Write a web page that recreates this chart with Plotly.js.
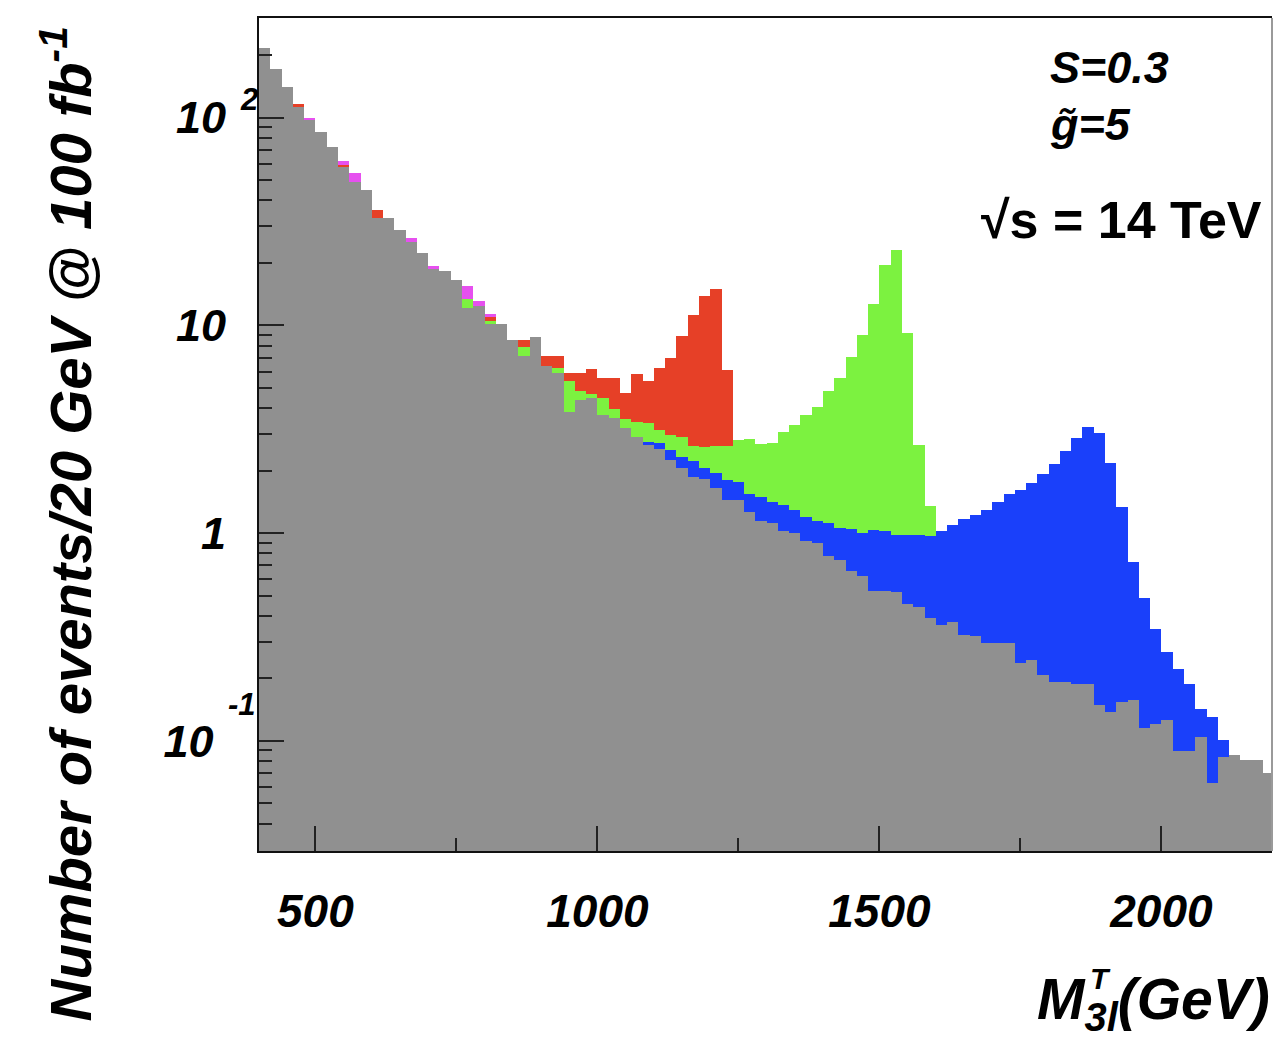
<!DOCTYPE html>
<html>
<head>
<meta charset="utf-8">
<script src="https://cdn.plot.ly/plotly-3.0.1.min.js"></script>
<style>
  html, body { margin: 0; padding: 0; background: #ffffff; }
  #chart { width: 1283px; height: 1045px; }
  /* keep neighbouring histogram bins seamless */
  #chart .barlayer path { shape-rendering: crispEdges; }
</style>
</head>
<body>
<div id="chart"></div>
<script>
// Transverse three-lepton mass, 20 GeV bins from 400 to 2200 GeV
const binCenters = [
  410, 430, 450, 470, 490, 510, 530, 550, 570, 590,
  610, 630, 650, 670, 690, 710, 730, 750, 770, 790,
  810, 830, 850, 870, 890, 910, 930, 950, 970, 990,
  1010, 1030, 1050, 1070, 1090, 1110, 1130, 1150, 1170, 1190,
  1210, 1230, 1250, 1270, 1290, 1310, 1330, 1350, 1370, 1390,
  1410, 1430, 1450, 1470, 1490, 1510, 1530, 1550, 1570, 1590,
  1610, 1630, 1650, 1670, 1690, 1710, 1730, 1750, 1770, 1790,
  1810, 1830, 1850, 1870, 1890, 1910, 1930, 1950, 1970, 1990,
  2010, 2030, 2050, 2070, 2090, 2110, 2130, 2150, 2170, 2190
];

// Standard-model background (events / 20 GeV @ 100 fb^-1)
const background = [
  217, 171, 140, 113, 97.8, 85, 72, 57.7, 49.3, 45,
  33, 33, 28.9, 25.2, 22.4, 18.6, 18.2, 16.5, 12.1, 12.4,
  10.2, 10.2, 8.5, 7.1, 8.8, 6.4, 5.9, 3.85, 4.38, 4.47,
  3.72, 3.58, 3.2, 2.9, 2.65, 2.55, 2.25, 2.07, 1.86, 1.82,
  1.65, 1.45, 1.45, 1.27, 1.15, 1.12, 1.02, 1.00, 0.92, 0.90,
  0.78, 0.745, 0.654, 0.62, 0.524, 0.524, 0.52, 0.455, 0.443, 0.39,
  0.36, 0.375, 0.322, 0.32, 0.296, 0.296, 0.296, 0.237, 0.245, 0.208,
  0.193, 0.193, 0.188, 0.188, 0.149, 0.138, 0.154, 0.158, 0.115, 0.120,
  0.126, 0.089, 0.089, 0.105, 0.063, 0.084, 0.086, 0.081, 0.081, 0.070
];

// Background + extra component (only where it pokes above the others)
const extraTotal = [
  null, null, null, null, 100, null, null, 62, 54.2, null,
  null, null, null, 26.5, null, 19.4, null, null, 15.5, 13.1,
  11.3, null, null, null, null, null, null, null, null, null,
  null, null, null, null, null, null, null, null, null, null,
  null, null, null, null, null, null, null, null, null, null,
  null, null, null, null, null, null, null, null, null, null,
  null, null, null, null, null, null, null, null, null, null,
  null, null, null, null, null, null, null, null, null, null,
  null, null, null, null, null, null, null, null, null, null
];

// Background + resonance peaking near 1.2 TeV
const signalLow = [
  null, null, null, 117, null, null, null, 59.4, null, null,
  36, null, null, null, null, null, null, null, null, null,
  11.0, null, null, 8.5, null, 7.15, 7.1, 5.9, 5.9, 6.17,
  5.57, 5.57, 4.73, 5.85, 5.43, 6.24, 6.97, 8.85, 11.2, 13.9,
  15.0, 6.13, null, null, null, null, null, null, null, null,
  null, null, null, null, null, null, null, null, null, null,
  null, null, null, null, null, null, null, null, null, null,
  null, null, null, null, null, null, null, null, null, null,
  null, null, null, null, null, null, null, null, null, null
];

// Background + resonance peaking near 1.5 TeV
const signalMid = [
  null, null, null, null, null, null, null, null, null, null,
  null, null, null, null, null, null, null, null, 13.4, null,
  10.5, null, null, 7.85, null, null, 6.24, 5.40, 4.82, 4.66,
  4.45, 3.96, 3.55, 3.42, 3.39, 3.15, 2.98, 2.91, 2.62, 2.60,
  2.62, 2.64, 2.80, 2.85, 2.69, 2.73, 3.06, 3.33, 3.72, 4.07,
  4.81, 5.58, 7.05, 8.96, 12.7, 19.6, 23.0, 9.18, 2.67, 1.35,
  null, null, null, null, null, null, null, null, null, null,
  null, null, null, null, null, null, null, null, null, null,
  null, null, null, null, null, null, null, null, null, null
];

// Background + resonance peaking near 1.9 TeV
const signalHigh = [
  null, null, null, null, null, null, null, null, null, null,
  null, null, null, null, null, null, null, null, null, null,
  null, null, null, null, null, null, null, null, null, null,
  null, null, null, null, 2.75, 2.72, 2.52, 2.32, 2.23, 2.06,
  1.95, 1.80, 1.77, 1.55, 1.50, 1.42, 1.36, 1.30, 1.20, 1.14,
  1.12, 1.06, 1.05, 1.00, 1.04, 1.03, 0.98, 0.98, 0.98, 0.965,
  1.02, 1.09, 1.17, 1.22, 1.29, 1.42, 1.55, 1.62, 1.74, 1.92,
  2.15, 2.48, 2.88, 3.24, 3.03, 2.17, 1.34, 0.73, 0.49, 0.345,
  0.267, 0.221, 0.188, 0.143, 0.131, 0.101, null, null, null, null
];

// Axis ticks and labels
const xTickVals = [500, 1000, 1500, 2000];
const xTickText = ["500", "1000", "1500", "2000"];
const xMinorVals = [750, 1250, 1750];
const yTickVals = [0.1, 1, 10, 100];
const yTickBase = ["10\u00a0", "1", "10", "10"];
const yTickExp = ["-1", "", "", "2"];
const yMinorVals = [
  0.04, 0.05, 0.06, 0.07, 0.08, 0.09,
  0.2, 0.3, 0.4, 0.5, 0.6, 0.7, 0.8, 0.9,
  2, 3, 4, 5, 6, 7, 8, 9,
  20, 30, 40, 50, 60, 70, 80, 90,
  200
];

const FONT = "Liberation Sans, Arial, Helvetica, sans-serif";
const boldItalic = (size) => ({ family: FONT, size: size, color: "#000000", weight: "bold", style: "italic" });

// Drawn back to front: each later histogram covers the earlier ones
const layers = [
  { y: extraTotal, color: "#e650ef" },
  { y: signalLow, color: "#e64027" },
  { y: signalMid, color: "#7cf240" },
  { y: signalHigh, color: "#1a40fa" },
  { y: background, color: "#909090" }
];

const traces = layers.map(l => ({
  type: "bar",
  x: binCenters,
  y: l.y,
  width: 20,
  marker: { color: l.color, line: { width: 0 } },
  hoverinfo: "skip",
  showlegend: false
}));

const annotations = [];
yTickVals.forEach((v, i) => {
  if (!yTickExp[i]) return;
  annotations.push({
    xref: "paper", yref: "y", x: 0, y: Math.log10(v),
    xanchor: "right", yanchor: "middle", xshift: v < 1 ? -1 : 1,
    yshift: v < 1 ? 36 : 18,
    text: yTickExp[i], showarrow: false, font: boldItalic(31)
  });
});

annotations.push(
  {
    xref: "paper", yref: "paper", x: -0.1905, y: 0.392,
    xanchor: "center", yanchor: "middle", textangle: -90,
    text: "Number of events/20 GeV @ 100 fb<sup>-1</sup>",
    showarrow: false, font: boldItalic(58)
  },
  {
    xref: "paper", yref: "paper", x: 1.0, y: -0.182,
    xanchor: "right", yanchor: "middle",
    text: "M<sub>3l</sub>(GeV)", showarrow: false, font: boldItalic(57)
  },
  {
    xref: "paper", yref: "paper", x: 0.831, y: -0.153,
    xanchor: "center", yanchor: "middle",
    text: "T", showarrow: false, font: boldItalic(30)
  },
  {
    xref: "paper", yref: "paper", x: 0.7789, y: 0.94,
    xanchor: "left", yanchor: "middle",
    text: "S=0.3", showarrow: false, font: boldItalic(45)
  },
  {
    xref: "paper", yref: "paper", x: 0.7789, y: 0.872,
    xanchor: "left", yanchor: "middle",
    text: "g\u0303=5", showarrow: false, font: boldItalic(45)
  },
  {
    xref: "paper", yref: "paper", x: 0.992, y: 0.757,
    xanchor: "right", yanchor: "middle",
    text: "\u221As = 14 TeV", showarrow: false,
    font: { family: FONT, size: 52, color: "#000000", weight: "bold" }
  }
);

const layout = {
  width: 1283,
  height: 1045,
  margin: { l: 259, r: 11, t: 18, b: 194, pad: 0 },
  paper_bgcolor: "#ffffff",
  plot_bgcolor: "#ffffff",
  barmode: "overlay",
  showlegend: false,
  xaxis: {
    range: [400, 2196],
    showgrid: false, zeroline: false,
    showline: true, linecolor: "#111111", linewidth: 2, mirror: true,
    ticks: "inside", ticklen: 25, tickwidth: 2, tickcolor: "#222222",
    tickmode: "array", tickvals: xTickVals, ticktext: xTickText,
    ticklabelstandoff: 19,
    tickfont: boldItalic(46),
    minor: { tickmode: "array", tickvals: xMinorVals, ticks: "inside", ticklen: 13, tickwidth: 2, tickcolor: "#222222", showgrid: false }
  },
  yaxis: {
    type: "log",
    range: [-1.53, 2.48],
    showgrid: false, zeroline: false,
    showline: true, linecolor: "#111111", linewidth: 2,
    ticks: "inside", ticklen: 25, tickwidth: 2, tickcolor: "#222222",
    tickmode: "array", tickvals: yTickVals, ticktext: yTickBase,
    ticklabelstandoff: 22,
    tickfont: boldItalic(45),
    minor: { tickmode: "array", tickvals: yMinorVals, ticks: "inside", ticklen: 13, tickwidth: 2, tickcolor: "#222222", showgrid: false }
  },
  shapes: [
    { type: "line", xref: "paper", yref: "paper", x0: 1, x1: 1, y0: 0, y1: 1,
      line: { color: "#9a9a9a", width: 2 }, layer: "above" }
  ],
  annotations: annotations
};

Plotly.newPlot("chart", traces, layout, { displayModeBar: false, responsive: false });
</script>
</body>
</html>
